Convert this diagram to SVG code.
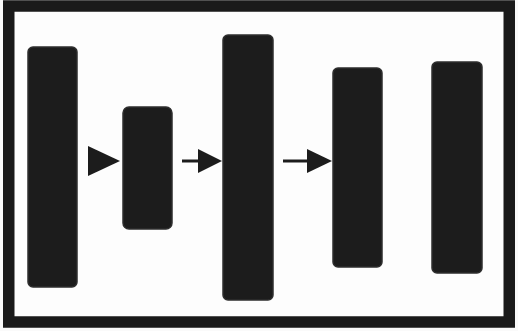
<svg xmlns="http://www.w3.org/2000/svg" width="518" height="331" viewBox="0 0 518 331">
<defs>
<style>
.bar{fill:#1c1c1c;stroke:#2e2e2e;stroke-width:1.5}
.ln{stroke:#1c1c1c;stroke-width:3;fill:none}
.hd{fill:#1c1c1c}
</style>
</defs>
<rect x="0" y="0" width="518" height="331" fill="#fafafa"/>
<rect x="8.75" y="6" width="500.5" height="316" fill="#fdfdfd" stroke="#1a1a1a" stroke-width="11.5"/>
<g id="n1"><rect class="bar" x="28" y="47" width="49" height="240" rx="5"/></g>
<g id="n2"><rect class="bar" x="123" y="107" width="49" height="122" rx="6"/></g>
<g id="n3"><rect class="bar" x="223" y="35" width="50" height="265" rx="5"/></g>
<g id="n4"><rect class="bar" x="333" y="68" width="49" height="199" rx="5"/></g>
<g id="n5"><rect class="bar" x="432" y="62" width="50" height="211" rx="5"/></g>
<g id="connectors">
<polygon class="hd" points="88,146 120,161 88,176"/>
<line class="ln" x1="182" y1="161" x2="200" y2="161"/>
<polygon class="hd" points="198,149 222,161 198,173"/>
<line class="ln" x1="283" y1="161" x2="309" y2="161"/>
<polygon class="hd" points="307,149 332,161 307,173"/>
</g>
</svg>
